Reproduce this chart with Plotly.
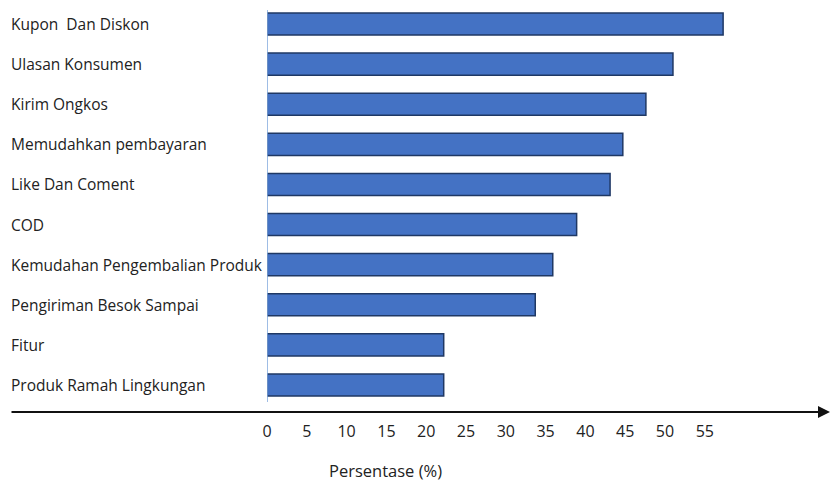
import plotly.graph_objects as go

# Survey factors, top to bottom, and their share of respondents (%)
categories = [
    "Kupon  Dan Diskon",
    "Ulasan Konsumen",
    "Kirim Ongkos",
    "Memudahkan pembayaran",
    "Like Dan Coment",
    "COD",
    "Kemudahan Pengembalian Produk",
    "Pengiriman Besok Sampai",
    "Fitur",
    "Produk Ramah Lingkungan",
]
values = [57.3, 51.0, 47.6, 44.7, 43.1, 38.9, 35.9, 33.7, 22.2, 22.2]
tick_values = [0, 5, 10, 15, 20, 25, 30, 35, 40, 45, 50, 55]
x_title = "Persentase (%)"

W, H = 832, 486
ML, MR, MT, MB = 267, 32, 4, 81
plot_w = W - ML - MR
plot_h = H - MT - MB
px_per_unit = 7.96
x_max = plot_w / px_per_unit

FONT = "Open Sans"
TEXT = "#222222"


def px_to_paper_x(px):
    return (px - ML) / plot_w


def px_to_paper_y(py):
    return (H - MB - py) / plot_h


fig = go.Figure(
    go.Bar(
        x=values,
        y=categories,
        orientation="h",
        width=0.55,
        marker=dict(color="#4472C4", line=dict(color="#1F3864", width=1.5)),
        hoverinfo="x+y",
    )
)

# Left-aligned category labels
annotations = [
    dict(
        x=px_to_paper_x(9), xref="paper", y=c, yref="y",
        text=c, showarrow=False, xanchor="left", yanchor="middle",
        font=dict(family=FONT, size=15.5, color=TEXT),
    )
    for c in categories
]

# Horizontal axis arrow across the whole width
axis_y = px_to_paper_y(412)
annotations.append(
    dict(
        x=px_to_paper_x(830), y=axis_y, xref="paper", yref="paper",
        ax=-820, ay=0, axref="pixel", ayref="pixel",
        showarrow=True, arrowhead=2, arrowsize=1.2, arrowwidth=2,
        arrowcolor="#111111", text="",
    )
)

# Axis title
annotations.append(
    dict(
        x=px_to_paper_x(385), y=px_to_paper_y(470), xref="paper", yref="paper",
        text=x_title, showarrow=False, xanchor="center", yanchor="middle",
        font=dict(family=FONT, size=16.5, color=TEXT),
    )
)

fig.update_layout(
    width=W, height=H,
    margin=dict(l=ML, r=MR, t=MT, b=MB, pad=0),
    paper_bgcolor="white", plot_bgcolor="white",
    showlegend=False,
    bargap=0.45,
    xaxis=dict(
        range=[0, x_max], tickvals=tick_values,
        showgrid=False, zeroline=False, showline=False, ticks="",
        ticklabelstandoff=15,
        tickfont=dict(family=FONT, size=16, color=TEXT),
        fixedrange=True,
    ),
    yaxis=dict(
        categoryorder="array", categoryarray=categories,
        autorange="reversed",
        showticklabels=False, showgrid=False, zeroline=False,
        showline=False, ticks="", fixedrange=True,
    ),
    shapes=[
        dict(
            type="line", xref="x", yref="paper",
            x0=0, x1=0, y0=px_to_paper_y(402), y1=px_to_paper_y(10),
            line=dict(color="#7FA7DC", width=1.5),
            layer="above",
        )
    ],
    annotations=annotations,
)

fig.write_html("out.html")
